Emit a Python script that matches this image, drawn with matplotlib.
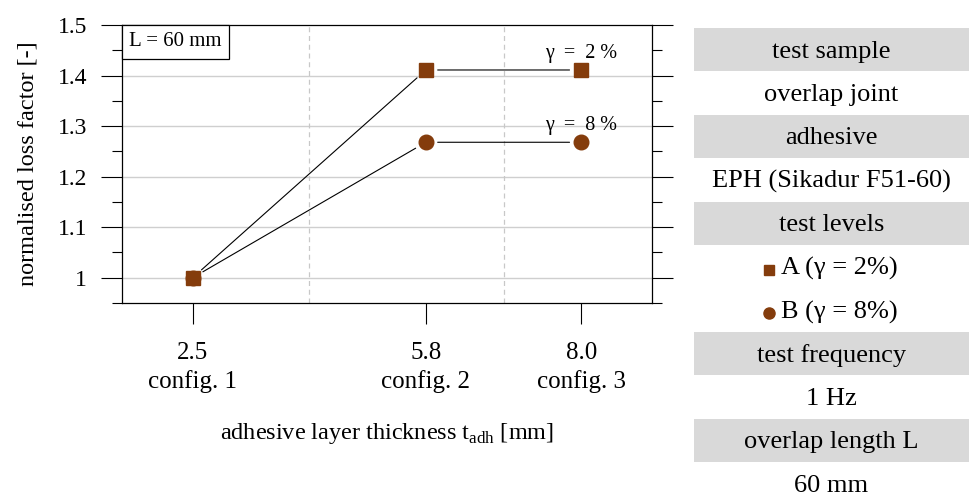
import matplotlib
matplotlib.use('Agg')
import matplotlib.pyplot as plt
from matplotlib.ticker import MultipleLocator, FixedLocator, FixedFormatter
from matplotlib.patches import Rectangle
from matplotlib.offsetbox import AnchoredText

# ---------------- data ----------------
thickness = [2.5, 5.8, 8.0]
thickness_labels = ['2.5', '5.8', '8.0']
config_labels = ['config. 1', 'config. 2', 'config. 3']
level_A = [1.0, 1.411, 1.411]   # gamma = 2 %
level_B = [1.0, 1.268, 1.268]   # gamma = 8 %
label_A = 'γ  =  2 %'
label_B = 'γ  =  8 %'
separators = [4.15, 6.9]
yticks = [1.0, 1.1, 1.2, 1.3, 1.4, 1.5]
ytick_labels = ['1', '1.1', '1.2', '1.3', '1.4', '1.5']
table_rows = ['test sample', 'overlap joint', 'adhesive', 'EPH (Sikadur F51-60)',
              'test levels', 'A (γ = 2%)', 'B (γ = 8%)', 'test frequency',
              '1 Hz', 'overlap length L', '60 mm']
table_header = [True, False, True, False, True, False, False, True, False, True, False]
table_marker = [None, None, None, None, None, 's', 'o', None, None, None, None]

BROWN = '#843C0C'
FONT = 'Liberation Serif'

plt.rcParams['font.family'] = [FONT, 'DejaVu Serif']
plt.rcParams['font.size'] = 18

W, H = 969, 496
fig = plt.figure(figsize=(W / 100, H / 100), dpi=100)
ax = fig.add_axes([122 / W, 1 - 303 / H, (652 - 122) / W, (303 - 25) / H])

ax.set_xlim(1.5, 9.0)
ax.set_ylim(0.95, 1.5)

# grid
for yv in yticks[:-1]:
    ax.axhline(yv, color='#cfcfcf', lw=1.0, zorder=0)
for xv in separators:
    ax.axvline(xv, color='#c8c8c8', lw=0.9, ls=(0, (4, 3)), zorder=0)

# connecting lines with gaps at markers
for series in (level_A, level_B):
    for i in range(len(thickness) - 1):
        ax.annotate('', xy=(thickness[i + 1], series[i + 1]),
                    xytext=(thickness[i], series[i]),
                    arrowprops=dict(arrowstyle='-', color='black', lw=0.8,
                                    shrinkA=8.5, shrinkB=8.5), zorder=2)

ax.plot(thickness, level_B, ls='none', marker='o', ms=10.5, color=BROWN, zorder=3)
ax.plot(thickness, level_A, ls='none', marker='s', ms=9.5, color=BROWN, zorder=3)

ax.annotate(label_A, xy=(thickness[-1], level_A[-1]), xytext=(0, 12),
            textcoords='offset points', ha='center', va='center', fontsize=14.5)
ax.annotate(label_B, xy=(thickness[-1], level_B[-1]), xytext=(0, 12),
            textcoords='offset points', ha='center', va='center', fontsize=14.5)

# box
at = AnchoredText('L = 60 mm', loc='upper left', borderpad=0, pad=0.35,
                  prop=dict(fontsize=15, family=FONT), frameon=True)
at.patch.set_edgecolor('black')
at.patch.set_linewidth(0.9)
at.patch.set_boxstyle('square,pad=0')
ax.add_artist(at)

# ticks
ax.set_xticks(thickness, [f'{a}\n{b}' for a, b in zip(thickness_labels, config_labels)],
              linespacing=1.35)
ax.yaxis.set_major_locator(FixedLocator(yticks))
ax.yaxis.set_major_formatter(FixedFormatter(ytick_labels))
ax.yaxis.set_minor_locator(MultipleLocator(0.05))
ax.tick_params(axis='x', which='major', direction='out', length=15, width=0.8,
               pad=13, labelsize=18, top=False)
ax.tick_params(axis='y', which='major', direction='out', length=15, width=0.8,
               pad=10, labelsize=17, right=True)
ax.tick_params(axis='y', which='minor', direction='out', length=7.5, width=0.8, right=True)
for sp in ax.spines.values():
    sp.set_linewidth(0.9)

ax.set_ylabel('normalised loss factor [-]', fontsize=17.5, labelpad=14)
ax.set_xlabel('adhesive layer thickness t$_{\\mathregular{adh}}$ [mm]', fontsize=17.5, labelpad=20)

# table
tax = fig.add_axes([694 / W, 0, (W - 694) / W, 1])
tax.set_xlim(0, W - 694)
tax.set_ylim(H, 0)
tax.axis('off')
row_h = 43.4
y0 = 28
text_objs = []
for i, (txt, hdr, mk) in enumerate(zip(table_rows, table_header, table_marker)):
    top = y0 + i * row_h
    if hdr:
        tax.add_patch(Rectangle((0, top), W - 694, row_h, facecolor='#d9d9d9', lw=0))
    xc = (W - 694) / 2 + (8 if mk else 0)
    t = tax.text(xc, top + row_h / 2 + 2, txt, ha='center', va='center', fontsize=19)
    text_objs.append((t, mk, top + row_h / 2 + 2))

fig.canvas.draw()
r = fig.canvas.get_renderer()
for t, mk, yc in text_objs:
    if mk is None:
        continue
    bb = t.get_window_extent(renderer=r)
    x0 = tax.transData.inverted().transform((bb.x0, bb.y0))[0]
    tax.plot([x0 - 12], [yc + 1], marker=mk, ms=7 if mk == 's' else 8, color=BROWN, ls='none')

fig.savefig('out.png', dpi=100)
